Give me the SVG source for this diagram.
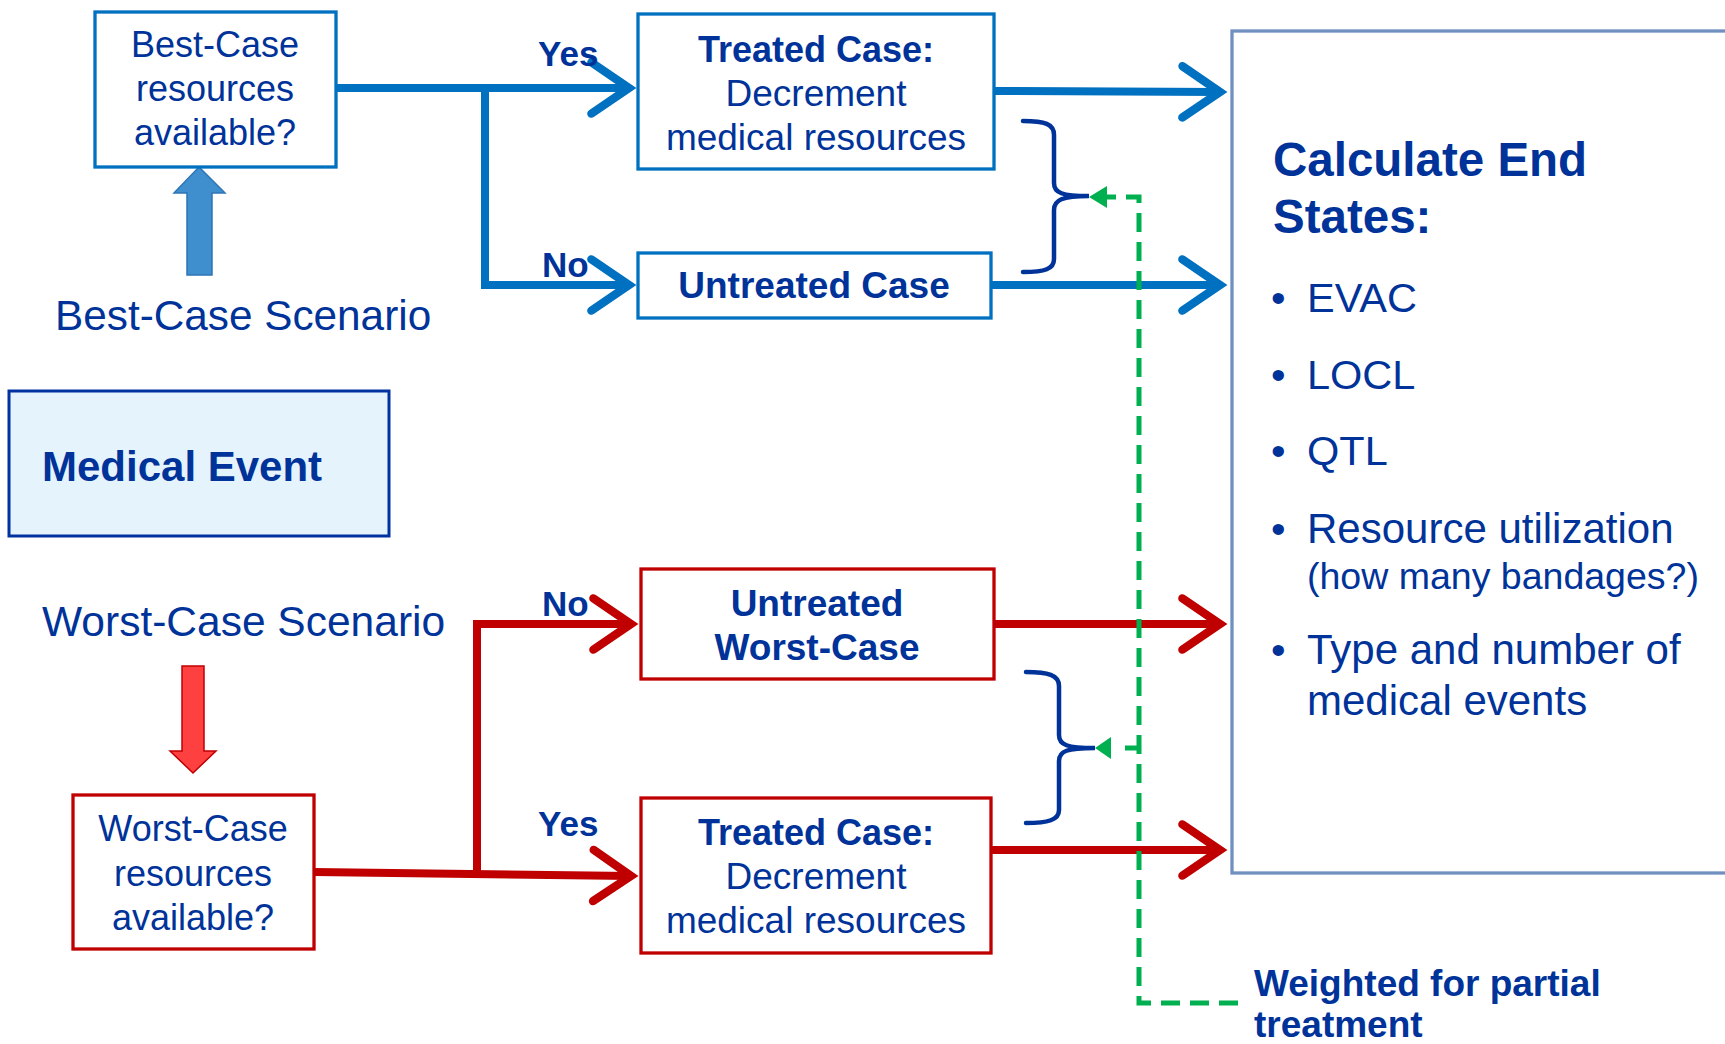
<svg xmlns="http://www.w3.org/2000/svg" width="1725" height="1044" viewBox="0 0 1725 1044">
<style>
text{font-family:"Liberation Sans",Arial,sans-serif;fill:#003399}
.c{text-anchor:middle}
.b{font-weight:bold}
.box{fill:#fff;stroke-width:3.3}
.bl{stroke:#0070C0}
.rd{stroke:#C00000}
.cb{fill:none;stroke:#0070C0;stroke-width:8}
.cr{fill:none;stroke:#C00000;stroke-width:8}
.brace{fill:none;stroke:#003399;stroke-width:4.5;stroke-linecap:round}
.dash{fill:none;stroke:#00B050;stroke-width:5;stroke-dasharray:19 10}
</style>
<defs>
<marker id="chB" viewBox="-6 -4 8 8" refX="0" refY="0" markerWidth="8" markerHeight="8" orient="auto" markerUnits="strokeWidth" overflow="visible">
<path d="M-4.7,-3.2 L0,0 L-4.7,3.2" fill="none" stroke="#0070C0" stroke-width="1.05" stroke-linecap="round"/>
</marker>
<marker id="chR" viewBox="-6 -4 8 8" refX="0" refY="0" markerWidth="8" markerHeight="8" orient="auto" markerUnits="strokeWidth" overflow="visible">
<path d="M-4.7,-3.2 L0,0 L-4.7,3.2" fill="none" stroke="#C00000" stroke-width="1.05" stroke-linecap="round"/>
</marker>
</defs>

<g id="connectors">
<path class="cb" d="M336,88 H629" marker-end="url(#chB)"/>
<path class="cb" d="M485,88 V285 H629" marker-end="url(#chB)"/>
<path class="cb" d="M994,91 L1220,92" marker-end="url(#chB)"/>
<path class="cb" d="M991,285 H1220" marker-end="url(#chB)"/>
<path class="cr" d="M314,872 L631,876" marker-end="url(#chR)"/>
<path class="cr" d="M477,872 V624 H631" marker-end="url(#chR)"/>
<path class="cr" d="M994,624 H1220" marker-end="url(#chR)"/>
<path class="cr" d="M991,850 H1220" marker-end="url(#chR)"/>
<polygon points="199,167 225,193 212,193 212,275 187,275 187,193 174,193" fill="#3F8FCF" stroke="#2E75B6" stroke-width="1.5"/>
<polygon points="182,666 204,666 204,751 216,751 193,773 170,751 182,751" fill="#FF4040" stroke="#C00000" stroke-width="1.5"/>
<path class="brace" d="M1023,121 C1045,121 1054,124 1054,135 L1054,183 C1054,193 1062,196 1089,196 C1062,196 1054,200 1054,210 L1054,259 C1054,269 1045,272 1023,272"/>
<path class="brace" d="M1026,672 C1048,672 1059,675 1059,686 L1059,735 C1059,745 1067,748 1095,748 C1067,748 1059,751 1059,761 L1059,810 C1059,820 1048,823 1026,823"/>
<path class="dash" d="M1238,1003 H1139 V197 H1106"/>
<polygon points="1089,197 1107,186 1107,208" fill="#00B050"/>
<path class="dash" d="M1125,748 H1139" stroke-dasharray="none"/>
<polygon points="1095,748 1111,737 1111,759" fill="#00B050"/>
<text class="b" x="538" y="66" font-size="35">Yes</text>
<text class="b" x="542" y="277" font-size="35">No</text>
<text class="b" x="542" y="616" font-size="35">No</text>
<text class="b" x="538" y="836" font-size="35">Yes</text>
</g>

<g id="best-case">
<rect class="box bl" x="95" y="12" width="241" height="155"/>
<text class="c" x="215" y="57" font-size="36">Best-Case</text>
<text class="c" x="215" y="101" font-size="36">resources</text>
<text class="c" x="215" y="145" font-size="36">available?</text>
</g>

<g id="best-case-scenario">
<text x="55" y="330" font-size="42.3">Best-Case Scenario</text>
</g>

<g id="medical-event">
<rect x="9" y="391" width="380" height="145" fill="#E5F3FD" stroke="#0033A0" stroke-width="3"/>
<text class="b" x="42" y="481" font-size="42">Medical Event</text>
</g>

<g id="worst-case-scenario">
<text x="42" y="636" font-size="42.5">Worst-Case Scenario</text>
</g>

<g id="worst-case">
<rect class="box rd" x="73" y="795" width="241" height="154"/>
<text class="c" x="193" y="841" font-size="36">Worst-Case</text>
<text class="c" x="193" y="886" font-size="36">resources</text>
<text class="c" x="193" y="930" font-size="36">available?</text>
</g>

<g id="treated-top">
<rect class="box bl" x="638" y="14" width="356" height="155"/>
<text class="c b" x="816" y="62" font-size="36">Treated Case:</text>
<text class="c" x="816" y="106" font-size="37">Decrement</text>
<text class="c" x="816" y="150" font-size="37">medical resources</text>
</g>

<g id="untreated-top">
<rect class="box bl" x="638" y="253" width="353" height="65"/>
<text class="c b" x="814" y="298" font-size="37">Untreated Case</text>
</g>

<g id="untreated-worst">
<rect class="box rd" x="641" y="569" width="353" height="110"/>
<text class="c b" x="817" y="616" font-size="37">Untreated</text>
<text class="c b" x="817" y="660" font-size="37">Worst-Case</text>
</g>

<g id="treated-bottom">
<rect class="box rd" x="641" y="798" width="350" height="155"/>
<text class="c b" x="816" y="845" font-size="36">Treated Case:</text>
<text class="c" x="816" y="889" font-size="37">Decrement</text>
<text class="c" x="816" y="933" font-size="37">medical resources</text>
</g>

<g id="end-states">
<rect x="1232" y="31" width="520" height="842" fill="#fff" stroke="#7090C0" stroke-width="3.3"/>
<text class="b" x="1273" y="176" font-size="47.5">Calculate End</text>
<text class="b" x="1273" y="233" font-size="47.5">States:</text>
<text x="1271" y="312" font-size="41.5">•</text><text x="1307" y="312" font-size="41.5">EVAC</text>
<text x="1271" y="389" font-size="41.5">•</text><text x="1307" y="389" font-size="41.5">LOCL</text>
<text x="1271" y="465" font-size="41.5">•</text><text x="1307" y="465" font-size="41.5">QTL</text>
<text x="1271" y="543" font-size="41.5">•</text><text x="1307" y="543" font-size="42">Resource utilization</text>
<text x="1307" y="589" font-size="37.5">(how many bandages?)</text>
<text x="1271" y="664" font-size="41.5">•</text><text x="1307" y="664" font-size="42">Type and number of</text>
<text x="1307" y="715" font-size="42">medical events</text>
</g>

<g id="weighted-label">
<text class="b" x="1254" y="996" font-size="37">Weighted for partial</text>
<text class="b" x="1254" y="1037" font-size="37">treatment</text>
</g>
</svg>
